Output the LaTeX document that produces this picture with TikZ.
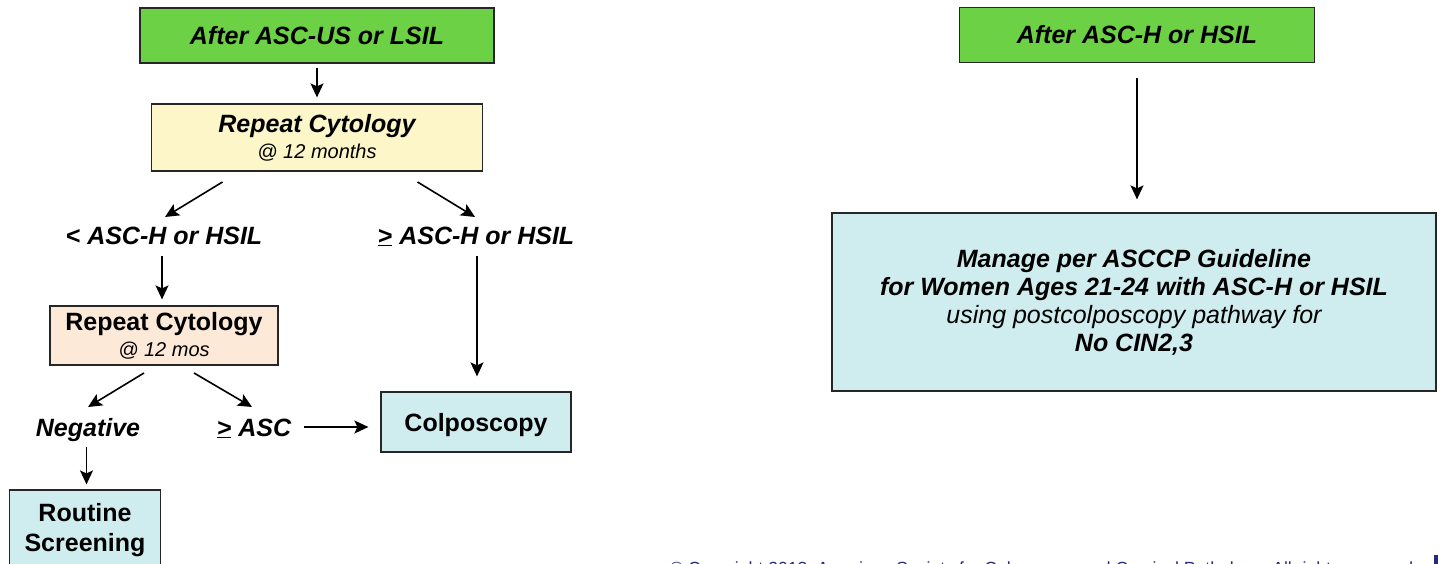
\documentclass[tikz,border=0pt]{standalone}
\usepackage{fontspec}
\setmainfont{Liberation Sans}
\usetikzlibrary{arrows.meta}
\definecolor{boxgreen}{HTML}{6CD144}
\definecolor{boxyellow}{HTML}{FCF6C8}
\definecolor{boxpeach}{HTML}{FDE9D8}
\definecolor{boxblue}{HTML}{CFECEE}
\definecolor{footnavy}{HTML}{28287A}
\tikzstyle{every node}=[font=\bfseries\itshape\fontsize{25}{29}\selectfont]
\tikzstyle{box}=[draw=black!85,line width=1.2pt,align=center,inner sep=0pt]
\tikzstyle{startbox}=[box,fill=boxgreen,minimum width=354pt,minimum height=55pt]
\tikzstyle{cytobox}=[box,fill=boxyellow,minimum width=331pt,minimum height=67pt]
\tikzstyle{repbox}=[box,fill=boxpeach,minimum width=228pt,minimum height=59pt]
\tikzstyle{endbox}=[box,fill=boxblue]
\tikzstyle{result}=[inner sep=0pt,text height=18pt,text depth=0pt]
\tikzstyle{arr}=[-{Stealth[length=14pt,width=13pt,inset=3pt]},line width=1.6pt]
\newcommand{\smallit}{\mdseries\itshape\fontsize{20}{24}\selectfont}

\begin{document}
\begin{tikzpicture}[x=1pt,y=-1pt]
	\useasboundingbox (0,0) rectangle (1438,564);

	% after ASC-US or LSIL
	\node(asc)[startbox] at (317,35.5) {After ASC-US or LSIL};
	\node(rc1)[cytobox,below of=asc,node distance=102pt] {Repeat Cytology\\[-3pt]{\smallit @ 12 months}};
	\node(lo)[result] at (164,235) {< ASC-H or HSIL};
	\node(hi)[result] at (476,235) {\underline{>} ASC-H or HSIL};
	\node(rc2)[repbox,below of=lo,node distance=100.5pt] {\upshape Repeat Cytology\\[-3pt]{\smallit @ 12 mos}};
	\node(neg)[result] at (88,427) {Negative};
	\node(pos)[result] at (254,427) {\underline{>} ASC};
	\node(colpo)[endbox,minimum width=190pt,minimum height=60pt,text height=18pt,text depth=0pt,below of=hi,node distance=187pt] {\upshape Colposcopy};
	\node(routine)[endbox,minimum width=151pt,minimum height=80pt] at (85,530) {\upshape Routine\\[1pt]\upshape Screening};

	% after ASC-H or HSIL
	\node(ascH)[startbox,minimum width=355pt] at (1137,35) {After ASC-H or HSIL};
	\node(mgmt)[endbox,minimum width=604pt,minimum height=178pt] at (1134,302) {Manage per ASCCP Guideline\\[-1pt]
		for Women Ages 21-24 with ASC-H or HSIL\\[-1pt]
		{\mdseries using postcolposcopy pathway for}\\[-1pt]
		No CIN2,3};

	\path[arr] ([yshift=-4pt]asc.south) edge ([yshift=6pt]rc1.north)
			([xshift=-94.5pt,yshift=-44.5pt]rc1.center) edge ([xshift=1pt,yshift=18pt]lo.center)
			([xshift=100.5pt,yshift=-44.5pt]rc1.center) edge ([xshift=-1pt,yshift=18pt]hi.center)
			([xshift=-2pt,yshift=-21pt]lo.center) edge ([xshift=-2pt,yshift=6pt]rc2.north)
			([xshift=1pt,yshift=-21pt]hi.center) edge ([xshift=1pt,yshift=15pt]colpo.north)
			([xshift=-20pt,yshift=-37.5pt]rc2.center) edge ([yshift=20pt]neg.center)
			([xshift=30pt,yshift=-37.5pt]rc2.center) edge ([xshift=-2pt,yshift=20pt]pos.center)
			([xshift=50pt]pos.center) edge ([xshift=-12pt,yshift=-5pt]colpo.west)
			([xshift=-1.5pt,yshift=-20pt]neg.center) edge ([xshift=1.5pt,yshift=5pt]routine.north)
			([yshift=-15pt]ascH.south) edge ([xshift=3pt,yshift=13pt]mgmt.north);

	% footer
	\node(copy)[anchor=base west,inner sep=0pt,text=footnavy,font=\fontsize{17.6}{20}\selectfont] at (670,574.6) {© Copyright 2013, American Society for Colposcopy and Cervical Pathology. All rights reserved.};
	\fill[footnavy] (1434,555) rectangle (1438,564);
\end{tikzpicture}
\end{document}
